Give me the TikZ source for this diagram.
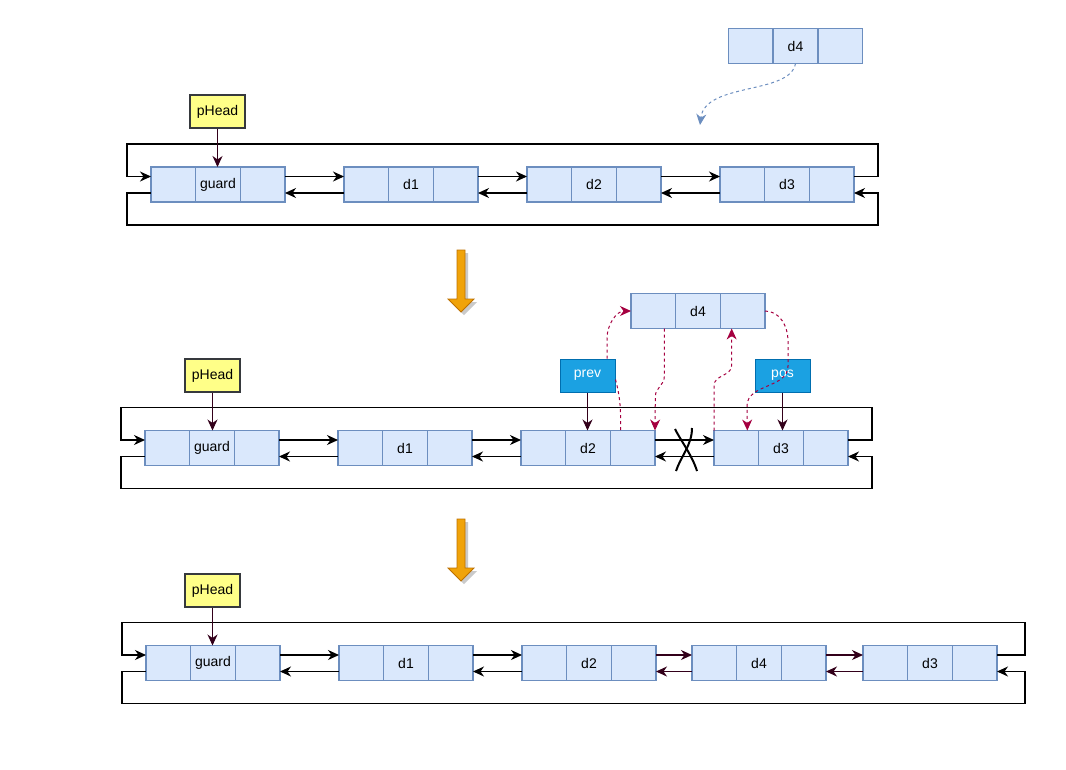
\documentclass[tikz,border=0pt]{standalone}
\usepackage{fontspec}
\setmainfont{Liberation Sans}
\usepackage{tikz}
\usetikzlibrary{arrows.meta,positioning,shadows}

\definecolor{cellfill}{HTML}{DAE8FC}
\definecolor{cellline}{HTML}{6C8EBF}
\definecolor{headfill}{HTML}{FFFF88}
\definecolor{headline}{HTML}{36393D}
\definecolor{ptrfill}{HTML}{1BA1E2}
\definecolor{ptrline}{HTML}{006EAF}
\definecolor{darklink}{HTML}{33001A}
\definecolor{movelink}{HTML}{A50040}
\definecolor{stepfill}{HTML}{F0A30A}
\definecolor{stepline}{HTML}{BD7000}

% one list element: prev cell, data cell, next cell
\newcommand{\listnode}[4]{%
  \node[cell] (#1) at (#2,#3) {#4};
  \node[cell,left=0pt of #1] (#1-p) {};
  \node[cell,right=0pt of #1] (#1-n) {};
}

\begin{document}
\begin{tikzpicture}[x=1pt,y=-1pt,
    font=\fontsize{14pt}{16pt}\selectfont,
    cell/.style={draw=cellline,fill=cellfill,line width=1.4pt,minimum width=44.67pt,minimum height=35pt,inner sep=0pt,outer sep=0pt},
    head/.style={draw=headline,fill=headfill,line width=1.4pt,minimum width=55pt,minimum height=33pt,inner sep=0pt},
    ptr/.style={draw=ptrline,fill=ptrfill,text=white,line width=1pt,minimum width=55pt,minimum height=33pt,inner sep=0pt},
    tip/.style={-{Stealth[length=11pt,width=10pt,inset=3.5pt]}},
    link/.style={tip,line width=1.1pt},
    darkref/.style={link,darklink},
    move/.style={tip,movelink,line width=1pt,dash pattern=on 3pt off 3pt},
    hint/.style={tip,cellline,line width=1pt,dash pattern=on 3pt off 3pt},
    stepdown/.style={fill=stepfill,draw=stepline,line width=0.8pt,drop shadow={shadow xshift=3pt,shadow yshift=-3pt,fill=black!35,opacity=0.6}}]
    \useasboundingbox (0,0) rectangle (1066,769);

    % Row 1: the list before insertion
    \node[head] (ph1) at (217.5,111.5) {pHead};
    \listnode{ga}{218}{184.5}{guard}
    \listnode{da1}{411}{184.5}{d1}
    \listnode{da2}{594}{184.5}{d2}
    \listnode{da3}{787}{184.5}{d3}
    \listnode{na4}{795.5}{46}{d4}
    \coordinate (drop) at (700,125);

    % Row 2: relinking around prev and pos
    \node[head] (ph2) at (212.5,375.5) {pHead};
    \listnode{gb}{212}{448}{guard}
    \listnode{db1}{405}{448}{d1}
    \listnode{db2}{588}{448}{d2}
    \listnode{db3}{781}{448}{d3}
    \listnode{nb4}{698}{311}{d4}
    \node[ptr] (prev) at (587.5,375.5) {prev};
    \node[ptr] (pos) at (782.5,375.5) {pos};

    % Row 3: the list after insertion
    \node[head] (ph3) at (212.5,590.5) {pHead};
    \listnode{gc}{213}{663}{guard}
    \listnode{dc1}{406}{663}{d1}
    \listnode{dc2}{589}{663}{d2}
    \listnode{dc4}{759}{663}{d4}
    \listnode{dc3}{930}{663}{d3}

    % Next / prev links
    \foreach \a/\b in {ga/da1,da1/da2,da2/da3,gb/db1,db1/db2,db2/db3,gc/dc1,dc1/dc2} {
        \draw[link] ([yshift=8pt]\a-n.east) -- ([yshift=8pt]\b-p.west);
        \draw[link] ([yshift=-8.5pt]\b-p.west) -- ([yshift=-8.5pt]\a-n.east);
    }
    \foreach \a/\b in {dc2/dc4,dc4/dc3} {
        \draw[darkref] ([yshift=8pt]\a-n.east) -- ([yshift=8pt]\b-p.west);
        \draw[darkref] ([yshift=-8.5pt]\b-p.west) -- ([yshift=-8.5pt]\a-n.east);
    }

    % Circular links back to the guard
    \foreach \g/\t/\w in {ga/da3/24,gb/db3/24,gc/dc3/28} {
        \draw[link] ([yshift=8pt]\t-n.east) -| ([xshift=\w pt,yshift=23pt]\t-n.north east)
            -- ([xshift=-24pt,yshift=23pt]\g-p.north west) |- ([yshift=8pt]\g-p.west);
        \draw[link] ([yshift=-8.5pt]\g-p.west) -| ([xshift=-24pt,yshift=-23pt]\g-p.south west)
            -- ([xshift=\w pt,yshift=-23pt]\t-n.south east) |- ([yshift=-8.5pt]\t-n.east);
    }

    % Pointers
    \draw[darkref] (ph1.south) -- (ph1.south |- ga.north);
    \draw[darkref] (ph2.south) -- (ph2.south |- gb.north);
    \draw[darkref] (ph3.south) -- (ph3.south |- gc.north);
    \draw[darkref] (prev.south) -- (prev.south |- db2.north);
    \draw[darkref] (pos.south) -- (pos.south |- db3.north);

    % New element to insert
    \draw[hint] (na4.south) .. controls (790,95) and (705,82) .. (drop);

    % Relinking steps
    \draw[move] ([xshift=19.5pt]prev.north) -- ++(0,-20) to[out=90,in=180] (nb4-p.west);
    \draw[move] ([xshift=11pt]nb4-p.south) -- ++(0,48) to[out=-90,in=90] ++(-9,20) -- (db2-n.north east);
    \draw[move] (db3-p.north west) -- ++(0,-45) to[out=90,in=-90] ++(17.7,-20) -- ([xshift=-11pt]nb4-n.south);
    \draw[move] (nb4-n.east) to[out=0,in=90] ++(23,30) -- ++(0,25) to[out=-90,in=90] ++(-41,40) -- ([xshift=11pt]db3-p.north);
    \draw[movelink,line width=1pt,dash pattern=on 3pt off 3pt] ([yshift=-4pt]prev.east) to[out=-75,in=90] ([xshift=-12pt]db2-n.north);

    % Broken link d2 <-> d3
    \draw[line width=2pt] (675,429) .. controls (681,441) and (692,455) .. (697,471);
    \draw[line width=2pt] (692,428) .. controls (692,445) and (681,456) .. (676,471);

    % Step arrows
    \foreach \y in {250,519} {
        \draw[stepdown] (457,\y) -- (465,\y) -- (465,\y+49) -- (474,\y+49) -- (461,\y+62) -- (448,\y+49) -- (457,\y+49) -- cycle;
    }
\end{tikzpicture}
\end{document}
